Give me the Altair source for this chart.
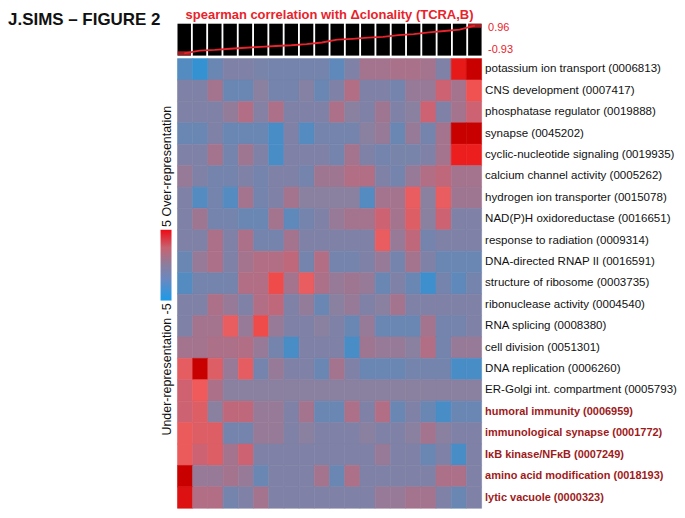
import json
import altair as alt
import pandas as pd

RED = "#e8232b"
DARKRED = "#9e1a1a"
FONT = "Liberation Sans"

terms = [
    "potassium ion transport (0006813)",
    "CNS development (0007417)",
    "phosphatase regulator (0019888)",
    "synapse (0045202)",
    "cyclic-nucleotide signaling (0019935)",
    "calcium channel activity (0005262)",
    "hydrogen ion transporter (0015078)",
    "NAD(P)H oxidoreductase (0016651)",
    "response to radiation (0009314)",
    "DNA-directed RNAP II (0016591)",
    "structure of ribosome (0003735)",
    "ribonuclease activity (0004540)",
    "RNA splicing (0008380)",
    "cell division (0051301)",
    "DNA replication (0006260)",
    "ER-Golgi int. compartment (0005793)",
    "humoral immunity (0006959)",
    "immunological synapse (0001772)",
    "I\u03baB kinase/NF\u03baB (0007249)",
    "amino acid modification (0018193)",
    "lytic vacuole (0000323)",
]
bold_terms = terms[16:]

# spearman correlation of each column with delta clonality
corr = [-0.93, -0.75, -0.70, -0.62, -0.55, -0.49, -0.43, -0.38, -0.30, -0.19,
        0.00, 0.06, 0.14, 0.20, 0.31, 0.39, 0.50, 0.60, 0.69, 0.96]

# enrichment scores (-5 under ... 5 over), one list per GO term, 20 columns
potassium   = [-2.5, -4, -1.5, -0.5, -0.5, -0.8, -1, -1, -1, -1, -2, -0.5, 1, 1, 1.2, 1.2, 1, -0.5, 4.4, 5]
cns         = [-0.5, -0.5, 1, -1.5, -1.5, 0, -1, -1, -0.3, -1.5, -0.5, 1.5, -0.5, -0.5, -1, 0.5, 0.5, 2.5, 1, 3.6]
phosphatase = [-0.5, -0.5, -0.5, 0.3, 1.5, -0.3, 1.3, -0.5, -0.5, -0.5, 1.3, 0, -0.5, 0.8, -0.5, 0, 2.5, -0.5, 1, 2.5]
synapse     = [-1.5, -1.5, -0.5, -1.5, -1.5, -1.5, -3, -0.5, -2.5, -1, -1, -1, 0, 0.5, -1.5, 0.5, -1, 1, 5, 5]
cyclic      = [-0.5, -0.5, 1, -1, 0.8, -0.5, -3, -0.5, -0.5, -0.5, -1, 1, -0.5, -1, -0.8, -0.8, -0.5, 1, 4.3, 4.3]
calcium     = [0.5, -0.5, -1, -1, -0.5, -1, -0.5, -0.5, -1, 0.8, 0.8, 1.5, 1.5, -0.5, -1, 0.5, 1.5, 2, 1, 1]
hydrogen    = [-0.5, -2.5, -1, -2.5, 1, -1, -0.5, 1, 0, 0, 0, 0, -2.5, 1, 1, 3.3, 0, 3.3, 0.8, 0.8]
nadph       = [-0.5, 0.8, -1, -1, -1.5, -1.5, 1, -2, -1, -0.5, 0.5, 1, 1, 2.5, 1, 3, 0, 2.5, -0.5, -0.5]
radiation   = [-0.5, -0.5, 1.3, -0.5, 1.3, -1, -1, 1, -0.5, -0.5, -0.5, -0.5, -0.5, 3.3, 0.5, 2, -1, -0.5, -0.5, -0.5]
rnap        = [-1.5, 0.5, 1.3, -0.5, 1, 1.5, 1.5, 2, -1, 1.5, -1, -1, -0.5, 0.5, -1, 1, -0.5, -1.5, -1.5, -1.5]
ribosome    = [-2.5, -1, -1, -1, 1.5, 1.5, 3.7, 1, 3.3, 1.3, 0.5, 0.8, 0.5, -1.5, -0.5, -1.5, -3.5, -1, -2, -1]
ribonucl    = [-0.5, -0.5, 1.3, 0.5, -0.5, 1.5, 2, -0.5, 0.3, -1.5, 0, 0.5, -0.5, 0, 1, -0.5, -0.5, -0.5, -0.5, -0.5]
splicing    = [-0.5, 1, 1, 3.3, 0.5, 3.7, 0.5, -0.5, -0.5, 0, -0.5, -1.5, 0.5, -1.5, -1.5, -1.5, 1, -1, -1, -0.5]
division    = [1, 1, 1.3, 1.3, 1.5, 0.5, -1, -3, -0.5, -0.5, -0.5, -3, 0.8, 0.5, 0.5, 0, 1.5, -1, 0.5, 0.5]
replication = [3.2, 5, 3, 0.5, 3.2, -1, 0.5, -0.5, -0.5, -1.5, 1, -0.5, -1.5, -1.5, -1.5, -1, -1, -1, -3, -3]
ergolgi     = [2.6, 3.5, 1.3, 0, 0, 0, 0, 0, 0, 0, 0, 0, 0, 0, 0, 0, 0, 0, 0, 0]
humoral     = [2.5, 3, 0, 2, 2, 0.5, 0.5, -0.5, 1, -1.5, -1.5, 1.3, -0.5, 1.5, -1.5, -0.5, -1.5, -3, -1.5, -1.5]
immsynapse  = [3.4, 3, 3, -1, -1, 0.5, 0.5, -0.5, 0, -0.5, -0.5, -0.5, 0, -0.5, -0.5, 0, 1, 0, -0.5, -0.5]
ikb         = [3.4, 2.5, 3, 1, 2.5, -0.5, -0.5, -0.5, -0.5, -0.5, -0.5, -0.5, -0.5, 0.5, -0.5, -0.5, -1.5, -0.5, -3, -0.5]
aminoacid   = [5, 0.5, 0.5, 1, 0.5, -1.5, -0.5, -0.5, -0.5, 1, -1.5, 1.3, -0.5, -0.5, -0.5, -0.5, -0.5, 1.3, 1.3, -0.5]
lytic       = [4.6, 1.5, 1.5, -1, -0.5, 1, -0.5, -0.5, -0.5, -0.5, -0.5, -0.5, -0.5, 0.5, 0.5, 1, 1, -0.5, -1.5, -0.5]

Z = [potassium, cns, phosphatase, synapse, cyclic, calcium, hydrogen, nadph,
     radiation, rnap, ribosome, ribonucl, splicing, division, replication,
     ergolgi, humoral, immsynapse, ikb, aminoacid, lytic]

cscale_domain = [-5, 0, 2.5, 3.5, 4.3, 5]
cscale_range = ["#1e96e0", "#8a80a0", "#cc6272", "#f05a5a", "#ec1e1e", "#c80000"]

heat_df = pd.DataFrame(
    [{"term": t, "col": c + 1, "z": v} for t, row in zip(terms, Z) for c, v in enumerate(row)]
)
strip_df = pd.DataFrame({"col": list(range(1, 21)), "corr": corr})

bold_test = "indexof(" + json.dumps(bold_terms, ensure_ascii=False) + ", datum.value) >= 0"

cscale = alt.Scale(domain=cscale_domain, range=cscale_range, interpolate="rgb", clamp=True)
heat = alt.Chart(heat_df).mark_rect(strokeWidth=0.6).encode(
    x=alt.X("col:O", axis=None, scale=alt.Scale(paddingInner=0, paddingOuter=0)),
    y=alt.Y(
        "term:N",
        sort=terms,
        scale=alt.Scale(paddingInner=0, paddingOuter=0),
        axis=alt.Axis(
            orient="right", title=None, ticks=False, domain=False, labelPadding=3,
            labelFont=FONT, labelLimit=400,
            labelFontSize={"condition": {"test": bold_test, "value": 11.0}, "value": 11.6},
            labelColor={"condition": {"test": bold_test, "value": DARKRED}, "value": "#111111"},
            labelFontWeight={"condition": {"test": bold_test, "value": "bold"}, "value": "normal"},
        ),
    ),
    color=alt.Color("z:Q", scale=cscale, legend=None),
    stroke=alt.Stroke("z:Q", scale=cscale, legend=None),
).properties(width=305, height=451)

ydom = [-1.09, 1.10]
xs = alt.X("col:O", axis=None, scale=alt.Scale(paddingInner=0.12, paddingOuter=0))
sbase = alt.Chart(strip_df)
bars = sbase.mark_rect(color="black").encode(
    x=xs, y=alt.datum(ydom[1]), y2=alt.datum(ydom[0])
)
sline = sbase.mark_line(color=RED, strokeWidth=1.8).encode(
    x=xs,
    y=alt.Y(
        "corr:Q",
        scale=alt.Scale(domain=ydom, nice=False, zero=False),
        axis=alt.Axis(
            orient="right", title=None, ticks=False, domain=False, grid=False,
            values=[-0.93, 0.96], labelColor=RED, labelFontSize=11,
            labelFont=FONT, labelPadding=6,
            labelExpr="datum.value < 0 ? '-' + format(-datum.value, '.2f') : format(datum.value, '.2f')",
            labelOffset={"condition": {"test": "datum.value > 0", "value": 2}, "value": -4},
        ),
    ),
)
ends = sbase.transform_filter("datum.col == 1 || datum.col == 20").mark_tick(
    color=RED, thickness=4, size=13.4
).encode(x=xs, y="corr:Q")

strip = alt.layer(bars, sline, ends).properties(
    width=305, height=32,
    title=alt.TitleParams(
        "spearman correlation with \u0394clonality (TCRA,B)", color=RED, fontSize=13,
        fontWeight="bold", font=FONT, offset=0, anchor="middle",
    ),
)

# left panel: colour key drawn on its own vertical scale (in score units)
ldom = [-34.34, 34.11]
cbar_df = pd.DataFrame({"top": [5], "bot": [-5]})
over_df = pd.DataFrame({"pos": [5.4], "label": ["5 Over-representation"]})
under_df = pd.DataFrame({"pos": [-5.4], "label": ["Under-representation -5"]})
title_df = pd.DataFrame({"pos": [ldom[1]], "label": ["J.SIMS \u2013 FIGURE 2"]})

grad = alt.Gradient(
    gradient="linear",
    stops=[
        alt.GradientStop(color="#1a9be8", offset=0),
        alt.GradientStop(color="#6a88c0", offset=0.3),
        alt.GradientStop(color="#8a7e9e", offset=0.5),
        alt.GradientStop(color="#c86270", offset=0.75),
        alt.GradientStop(color="#ee0a14", offset=1),
    ],
    x1=0, x2=0, y1=1, y2=0,
)
ly = alt.Scale(domain=ldom, nice=False, zero=False)
cbar = alt.Chart(cbar_df).mark_rect(fill=grad).encode(
    y=alt.Y("top:Q", scale=ly, axis=None), y2="bot:Q",
    x=alt.value(153), x2=alt.value(164),
)
over = alt.Chart(over_df).mark_text(
    angle=270, align="left", baseline="middle", fontSize=12.5, font=FONT, color="#111111"
).encode(y=alt.Y("pos:Q", scale=ly, axis=None), x=alt.value(159), text="label:N")
under = alt.Chart(under_df).mark_text(
    angle=270, align="right", baseline="middle", fontSize=12.5, font=FONT, color="#111111"
).encode(y=alt.Y("pos:Q", scale=ly, axis=None), x=alt.value(159), text="label:N")
jtitle = alt.Chart(title_df).mark_text(
    align="left", baseline="alphabetic", fontSize=17, fontWeight="bold", font=FONT,
    color="#111111", dy=1,
).encode(y=alt.Y("pos:Q", scale=ly, axis=None), x=alt.value(0), text="label:N")

left = alt.layer(cbar, over, under, jtitle).properties(width=169, height=486)

chart = alt.hconcat(
    left, alt.vconcat(strip, heat, spacing=0), spacing=0
).properties(padding=0, background="white").configure_view(stroke=None)

chart.save("out.html", embed_options={"renderer": "svg", "actions": False})
